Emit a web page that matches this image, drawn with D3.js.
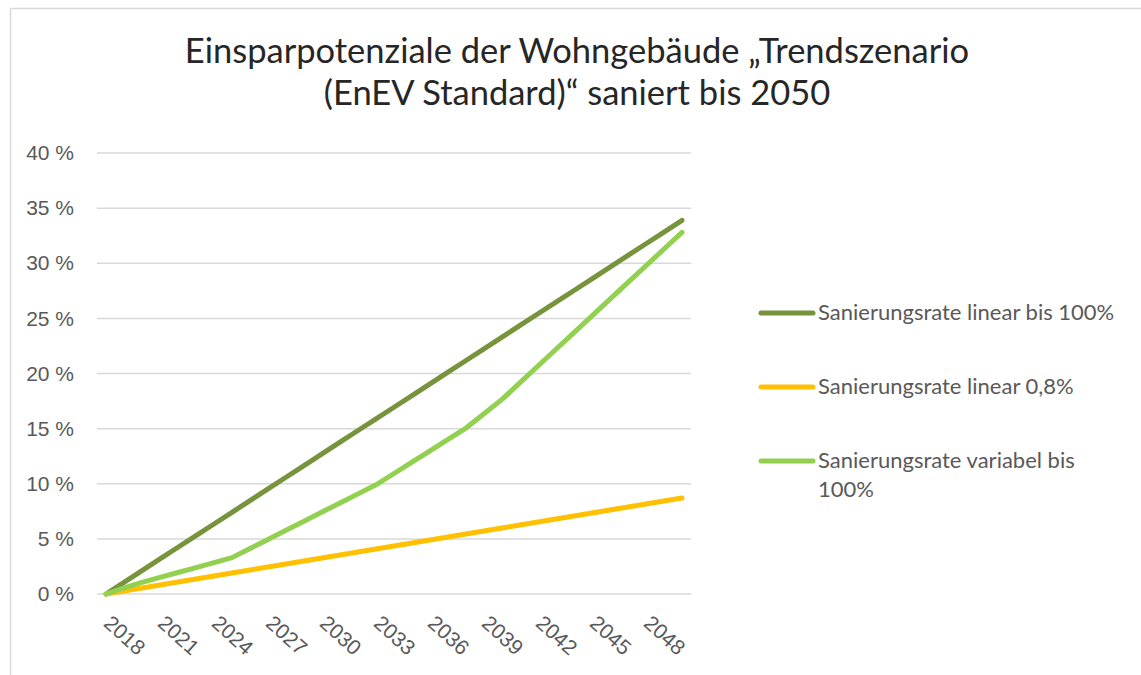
<!DOCTYPE html>
<html>
  <head>
    <meta charset="utf-8" />
    <script src="https://d3js.org/d3.v7.min.js"></script>
    <style>
      body { margin: 0; background: #fff; }
      svg { font-family: Lato, "Open Sans", sans-serif; }
      .grid line { stroke: #d9d9d9; stroke-width: 1.5px; }
      .axis text { fill: #595959; font-size: 21px; }
      .legend text { fill: #595959; font-size: 22px; }
      .title { fill: #262626; font-size: 34.5px; }
    </style>
  </head>
  <body>
    <svg id="chart" width="1141" height="675"></svg>
  <script>

  // data
  var years = [2018, 2019, 2020, 2021, 2022, 2023, 2024, 2025, 2026, 2027, 2028,
    2029, 2030, 2031, 2032, 2033, 2034, 2035, 2036, 2037, 2038, 2039, 2040,
    2041, 2042, 2043, 2044, 2045, 2046, 2047, 2048, 2049, 2050];

  var linear100 = [0, 1.06, 2.12, 3.18, 4.24, 5.30, 6.35, 7.41, 8.47, 9.53, 10.59,
    11.65, 12.71, 13.77, 14.83, 15.89, 16.94, 18.00, 19.06, 20.12, 21.18, 22.24,
    23.30, 24.36, 25.42, 26.48, 27.53, 28.59, 29.65, 30.71, 31.77, 32.83, 33.89];

  var linear08 = [0, 0.27, 0.54, 0.82, 1.09, 1.36, 1.63, 1.90, 2.18, 2.45, 2.72,
    2.99, 3.26, 3.54, 3.81, 4.08, 4.35, 4.62, 4.90, 5.17, 5.44, 5.71, 5.98,
    6.26, 6.53, 6.80, 7.07, 7.34, 7.62, 7.89, 8.16, 8.43, 8.70];

  var variabel100 = [0, 0.55, 1.05, 1.5, 1.95, 2.4, 2.85, 3.3, 4.13, 4.95, 5.78,
    6.6, 7.43, 8.25, 9.08, 9.9, 10.93, 11.96, 12.99, 14.02, 15.05, 16.35, 17.65,
    19.17, 20.68, 22.2, 23.71, 25.23, 26.74, 28.26, 29.77, 31.29, 32.8];

  var seriesNames = ["Sanierungsrate linear bis 100%", "Sanierungsrate linear 0,8%",
    "Sanierungsrate variabel bis 100%"];
  var seriesColors = ["#77933c", "#ffc000", "#92d050"];
  var yTicks = [0, 5, 10, 15, 20, 25, 30, 35, 40];
  var xTickYears = [2018, 2021, 2024, 2027, 2030, 2033, 2036, 2039, 2042, 2045, 2048];
  var titleLines = ["Einsparpotenziale der Wohngebäude \u201ETrendszenario",
    "(EnEV Standard)\u201C saniert bis 2050"];

  var series = [linear100, linear08, variabel100].map(function(vals, i) {
    return { name: seriesNames[i], color: seriesColors[i], values: vals };
  });

  var svg = d3.select("#chart");

  // chart frame (right and bottom edges run off the picture)
  svg.append("rect")
    .attr("x", 10.5).attr("y", 8.5)
    .attr("width", 1200).attr("height", 700)
    .attr("fill", "none")
    .attr("stroke", "#d9d9d9")
    .attr("stroke-width", 1.5);

  // title
  svg.append("text")
    .attr("class", "title")
    .attr("text-anchor", "middle")
    .selectAll("tspan")
    .data(titleLines)
    .enter().append("tspan")
    .attr("x", 577)
    .attr("y", function(d, i) { return 63 + i * 42; })
    .text(function(d) { return d; });

  var x = d3.scalePoint().domain(years).range([97, 691]).padding(0.5);
  var y = d3.scaleLinear().domain([0, 40]).range([594, 153]);

  // gridlines
  svg.append("g")
    .attr("class", "grid")
    .selectAll("line")
    .data(yTicks)
    .enter().append("line")
    .attr("x1", 97).attr("x2", 691)
    .attr("y1", function(d) { return y(d); })
    .attr("y2", function(d) { return y(d); });

  // y axis labels
  var yAxis = svg.append("g")
    .attr("class", "axis")
    .attr("transform", "translate(82,0)")
    .call(d3.axisLeft(y).tickValues(yTicks).tickSize(0).tickPadding(8)
      .tickFormat(function(d) { return d + " %"; }));
  yAxis.select(".domain").remove();
  yAxis.selectAll("text").attr("font-family", null).attr("font-size", null);

  // x axis labels, rotated
  var xAxis = svg.append("g")
    .attr("class", "axis")
    .attr("transform", "translate(0,594)")
    .call(d3.axisBottom(x).tickValues(xTickYears).tickSize(0));
  xAxis.select(".domain").remove();
  xAxis.selectAll("text")
    .attr("font-family", null).attr("font-size", "22px")
    .attr("dy", null)
    .attr("y", 0)
    .attr("text-anchor", "start")
    .attr("transform", "translate(-4,31) rotate(42)");

  // lines
  var line = d3.line()
    .x(function(d, i) { return x(years[i]); })
    .y(function(d) { return y(d); });

  svg.append("g")
    .selectAll("path")
    .data(series)
    .enter().append("path")
    .attr("d", function(d) { return line(d.values); })
    .attr("fill", "none")
    .attr("stroke", function(d) { return d.color; })
    .attr("stroke-width", 5)
    .attr("stroke-linecap", "round")
    .attr("stroke-linejoin", "round");

  // legend
  var legend = svg.append("g").attr("class", "legend");
  var rowY = [313, 387, 461];
  var labelLines = [[seriesNames[0]], [seriesNames[1]],
    ["Sanierungsrate variabel bis", "100%"]];

  series.forEach(function(s, i) {
    legend.append("line")
      .attr("x1", 761).attr("x2", 813)
      .attr("y1", rowY[i]).attr("y2", rowY[i])
      .attr("stroke", s.color)
      .attr("stroke-width", 5)
      .attr("stroke-linecap", "round");
    legend.append("text")
      .selectAll("tspan")
      .data(labelLines[i])
      .enter().append("tspan")
      .attr("x", 818)
      .attr("y", function(d, j) { return rowY[i] + 7 + j * 29; })
      .text(function(d) { return d; });
  });

  </script>
  </body>
</html>
